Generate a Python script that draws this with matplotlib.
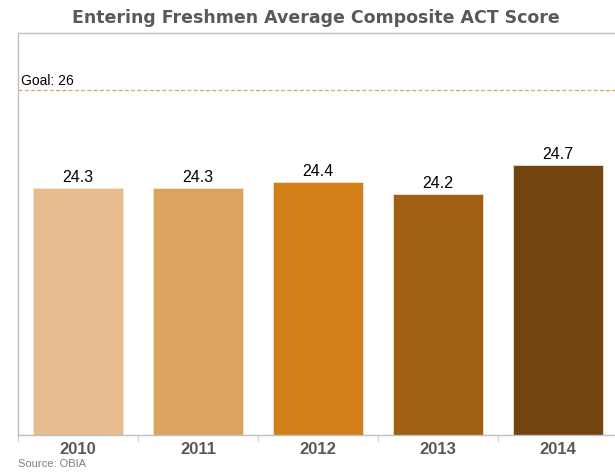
import matplotlib.pyplot as plt
import numpy as np

years = ['2010', '2011', '2012', '2013', '2014']
scores = [24.3, 24.3, 24.4, 24.2, 24.7]
goal = 26
bar_colors = ['#E6BC8E', '#DCA25F', '#D27F1A', '#A06012', '#73440F']

fig = plt.figure(figsize=(6.15, 4.75), dpi=100)
ax = fig.add_axes([18 / 615, 40 / 475, 600 / 615, 402 / 475])

x = np.arange(len(years))
bars = ax.bar(x, scores, width=0.75, color=bar_colors, edgecolor='#F3E3D0', linewidth=0.6, zorder=2)

# value labels on top of bars
for xi, val in zip(x, scores):
    ax.text(xi, val + 0.05, f'{val}', ha='center', va='bottom',
            fontsize=11.5, family='Liberation Sans', color='black')

# goal line
ax.axhline(goal, color='#D9B07A', linestyle=(0, (3, 1.5)), linewidth=1, zorder=1)
ax.text(-0.475, goal + 0.05, f'Goal: {goal}', ha='left', va='bottom',
        fontsize=10, family='Liberation Sans', color='black')

ax.set_xlim(-0.5, 4.5)
ax.set_ylim(20, 27)
ax.set_yticks([])

ax.set_xticks(x)
ax.set_xticklabels(years, fontsize=12, fontweight='bold', family='Liberation Sans', color='#595959')
ax.tick_params(axis='x', which='major', length=0, pad=5)
ax.set_xticks(np.arange(-0.5, 5, 1), minor=True)
ax.tick_params(axis='x', which='minor', length=5, color='#D9D9D9', width=1)

for side in ['left', 'top', 'right', 'bottom']:
    ax.spines[side].set_color('#BFBFBF')
    ax.spines[side].set_linewidth(1)

fig.text(316 / 615, 1 - 18 / 475, 'Entering Freshmen Average Composite ACT Score',
         ha='center', va='center', fontsize=12.5, fontweight='bold', color='#595959')
fig.text(18 / 615, 1 - 464 / 475, 'Source: OBIA', ha='left', va='center',
         fontsize=8, family='Liberation Sans', color='#7F7F7F')

fig.savefig('out.png', dpi=100)
